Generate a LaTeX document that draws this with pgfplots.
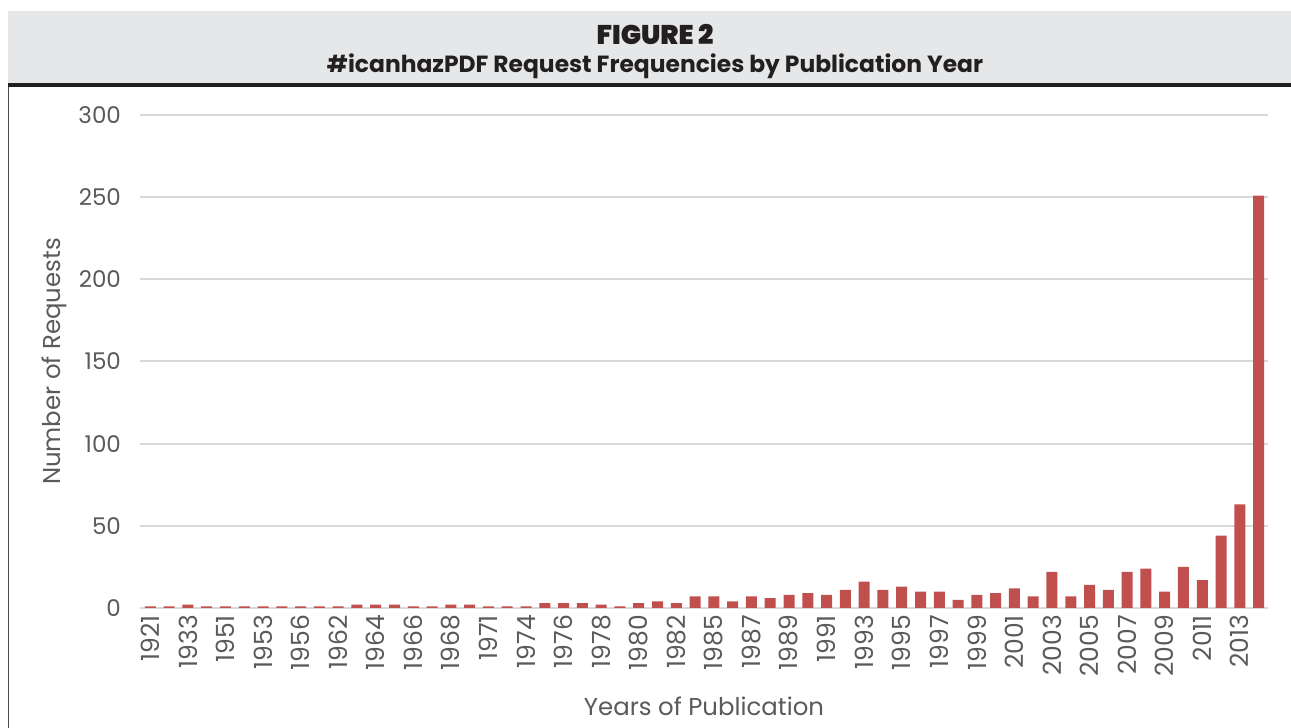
\documentclass[border=0pt]{standalone}
\usepackage{pgfplots}
\pgfplotsset{compat=1.18}
\usepackage{fontspec}
\setmainfont{Poppins}
\newfontfamily\heavyfont{Poppins}[UprightFont=* Black]
\newfontfamily\boldfont{Poppins}[UprightFont=* Bold]
\definecolor{barred}{HTML}{C0504D}
\definecolor{headgray}{HTML}{E6E7E8}
\definecolor{txtgray}{HTML}{5A5A5A}
\definecolor{gridgray}{HTML}{D9D9D9}
\definecolor{titleblack}{HTML}{231F20}
\begin{document}
\begin{tikzpicture}[x=1pt,y=1pt]
\path[use as bounding box] (0,0) rectangle (645.5,364);
\fill[headgray] (4,322.5) rectangle (645.5,358.5);
\fill[titleblack] (4,320.3) rectangle (645.5,322.5);
\draw[line width=0.6pt, black!70] (4.3,0) -- (4.3,320.3);
\node[font=\heavyfont\fontsize{13.5}{15}\selectfont, text=titleblack] at (327.5,346.5) {FIGURE 2};
\node[font=\boldfont\fontsize{11.7}{13}\selectfont, text=titleblack] at (327.5,331) {\#icanhazPDF Request Frequencies by Publication Year};
\begin{axis}[
  at={(70pt,60pt)}, anchor=south west,
  scale only axis, width=564pt, height=246.5pt,
  xmin=-0.55, xmax=59.5, ymin=0, ymax=300,
  ytick={0,50,...,300},
  xtick={0,2,...,58},
  xticklabels={1921,1933,1951,1953,1956,1962,1964,1966,1968,1971,1974,1976,1978,1980,1982,1985,1987,1989,1991,1993,1995,1997,1999,2001,2003,2005,2007,2009,2011,2013},
  /pgf/number format/assume math mode=true,
  ymajorgrids, grid style={gridgray, line width=1pt},
  axis line style={draw=none},
  major tick length=0pt,
  tick label style={font=\fontsize{11.5}{13}\selectfont, text=txtgray},
  yticklabel style={xshift=-6pt},
  xticklabel style={rotate=90, anchor=east, font=\fontsize{12.5}{13}\selectfont},
  every axis y label/.style={at={(axis description cs:0,0.5)}, xshift=-43pt, rotate=90, anchor=center, font=\fontsize{12.2}{13}\selectfont, text=txtgray},
  every axis x label/.style={at={(axis description cs:0.5,0)}, yshift=-49pt, anchor=center, font=\fontsize{12.2}{13}\selectfont, text=txtgray},
  ylabel={Number of Requests},
  xlabel={Years of Publication},
  clip=false,
]
\addplot[ybar, bar width=5.5pt, fill=barred, draw=none] coordinates {
(0,1) (1,1) (2,2) (3,1) (4,1) (5,1) (6,1) (7,1) (8,1) (9,1)
(10,1) (11,2) (12,2) (13,2) (14,1) (15,1) (16,2) (17,2) (18,1) (19,1)
(20,1) (21,3) (22,3) (23,3) (24,2) (25,1) (26,3) (27,4) (28,3) (29,7)
(30,7) (31,4) (32,7) (33,6) (34,8) (35,9) (36,8) (37,11) (38,16) (39,11)
(40,13) (41,10) (42,10) (43,5) (44,8) (45,9) (46,12) (47,7) (48,22) (49,7)
(50,14) (51,11) (52,22) (53,24) (54,10) (55,25) (56,17) (57,44) (58,63) (59,251)
};
\end{axis}
\end{tikzpicture}
\end{document}
